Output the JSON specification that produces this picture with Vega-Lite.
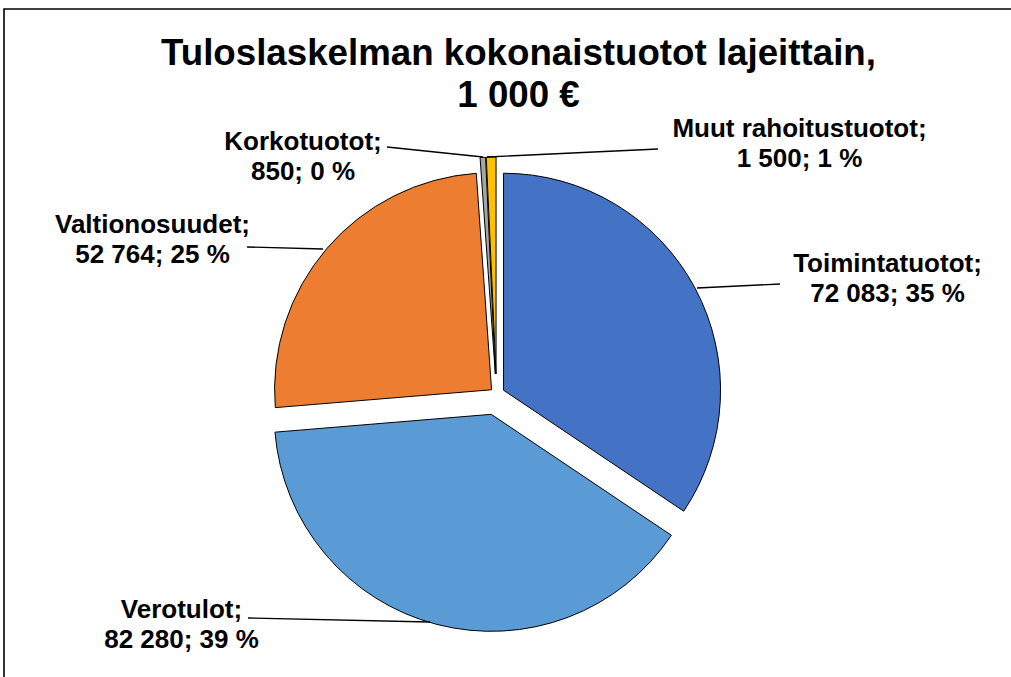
{
  "$schema": "https://vega.github.io/schema/vega-lite/v6.json",
  "width": 1011,
  "height": 672,
  "autosize": {"type": "none"},
  "padding": {"left": 4, "top": 9, "right": -4, "bottom": -4},
  "background": "white",
  "config": {
    "view": {"stroke": "black", "strokeWidth": 1.6},
    "font": "Liberation Sans"
  },
  "title": {
    "text": ["Tuloslaskelman kokonaistuotot lajeittain,", "1 000 €"],
    "font": "Liberation Sans",
    "fontSize": 36.7,
    "fontWeight": "bold",
    "color": "black",
    "lineHeight": 42.3,
    "anchor": "middle",
    "frame": "group",
    "offset": -106,
    "dx": 9
  },
  "data": {
    "values": [
      {"cat": "Toimintatuotot", "value": 72083},
      {"cat": "Verotulot", "value": 82280},
      {"cat": "Valtionosuudet", "value": 52764},
      {"cat": "Korkotuotot", "value": 850},
      {"cat": "Muut rahoitustuotot", "value": 1500}
    ]
  },
  "transform": [
    {"window": [{"op": "row_number", "as": "idx"}]},
    {"stack": "value", "groupby": [], "offset": "normalize", "sort": [{"field": "idx", "order": "ascending"}], "as": ["v0", "v1"]},
    {"joinaggregate": [{"op": "sum", "field": "value", "as": "total"}]},
    {"calculate": "100 * datum.value / datum.total", "as": "raw"},
    {"calculate": "floor(datum.raw)", "as": "fl"},
    {"calculate": "datum.raw - datum.fl", "as": "rem"},
    {"joinaggregate": [{"op": "sum", "field": "fl", "as": "sfl"}]},
    {"window": [{"op": "row_number", "as": "rk"}], "sort": [{"field": "rem", "order": "descending"}]},
    {"calculate": "datum.fl + (datum.rk <= 100 - datum.sfl ? 1 : 0)", "as": "pct"},
    {"calculate": "[datum.cat + ';', replace(format(datum.value, ','), ',', ' ') + '; ' + datum.pct + ' %']", "as": "label"}
  ],
  "layer": [
    {
      "mark": {"type": "arc", "radius": 217, "stroke": "black", "strokeWidth": 1},
      "transform": [
        {"calculate": "datum.cat == 'Verotulot' ? 21 : datum.cat == 'Toimintatuotot' ? 8 : datum.cat == 'Valtionosuudet' ? 6.5 : 20", "as": "explode"},
        {"calculate": "datum.explode * sin(PI * (datum.v0 + datum.v1))", "as": "ex"},
        {"calculate": "-datum.explode * cos(PI * (datum.v0 + datum.v1))", "as": "ey"}
      ],
      "encoding": {
        "x": {"field": "ex", "type": "quantitative", "scale": {"domain": [-492.5, 518.5], "zero": false, "nice": false}, "axis": null},
        "y": {"field": "ey", "type": "quantitative", "scale": {"domain": [-385, 287], "reverse": true, "zero": false, "nice": false}, "axis": null},
        "theta": {"field": "v0", "type": "quantitative", "scale": {"domain": [0, 1], "range": [0, 6.283185307179586]}},
        "theta2": {"field": "v1"},
        "color": {
          "field": "cat",
          "type": "nominal",
          "scale": {
            "domain": ["Toimintatuotot", "Verotulot", "Valtionosuudet", "Korkotuotot", "Muut rahoitustuotot"],
            "range": ["#4472C4", "#5B9BD5", "#ED7D31", "#A5A5A5", "#FFC000"]
          },
          "legend": null
        }
      }
    },
    {
      "mark": {"type": "rule", "color": "black", "strokeWidth": 1.3},
      "transform": [
        {"calculate": "{'Toimintatuotot': 283.5, 'Verotulot': -248.5, 'Valtionosuudet': -249.5, 'Korkotuotot': -109.5, 'Muut rahoitustuotot': 161.5}[datum.cat]", "as": "r1x"},
        {"calculate": "{'Toimintatuotot': -110, 'Verotulot': 224, 'Valtionosuudet': -147, 'Korkotuotot': -247, 'Muut rahoitustuotot': -245}[datum.cat]", "as": "r1y"},
        {"calculate": "{'Toimintatuotot': 200.5, 'Verotulot': -66.5, 'Valtionosuudet': -173.5, 'Korkotuotot': -13.5, 'Muut rahoitustuotot': -9.5}[datum.cat]", "as": "r2x"},
        {"calculate": "{'Toimintatuotot': -106, 'Verotulot': 228, 'Valtionosuudet': -145, 'Korkotuotot': -237, 'Muut rahoitustuotot': -237}[datum.cat]", "as": "r2y"}
      ],
      "encoding": {
        "x": {"field": "r1x", "type": "quantitative"},
        "y": {"field": "r1y", "type": "quantitative"},
        "x2": {"field": "r2x"},
        "y2": {"field": "r2y"}
      }
    },
    {
      "mark": {"type": "text", "font": "Liberation Sans", "fontSize": 26, "fontWeight": "bold", "color": "black", "align": "center", "baseline": "alphabetic", "lineHeight": 30},
      "transform": [
        {"calculate": "{'Toimintatuotot': 391, 'Verotulot': -315, 'Valtionosuudet': -344, 'Korkotuotot': -193.5, 'Muut rahoitustuotot': 303}[datum.cat]", "as": "lx"},
        {"calculate": "{'Toimintatuotot': -122.3, 'Verotulot': 224.3, 'Valtionosuudet': -161.3, 'Korkotuotot': -244, 'Muut rahoitustuotot': -257}[datum.cat]", "as": "ly"}
      ],
      "encoding": {
        "x": {"field": "lx", "type": "quantitative"},
        "y": {"field": "ly", "type": "quantitative"},
        "text": {"field": "label"}
      }
    }
  ]
}
